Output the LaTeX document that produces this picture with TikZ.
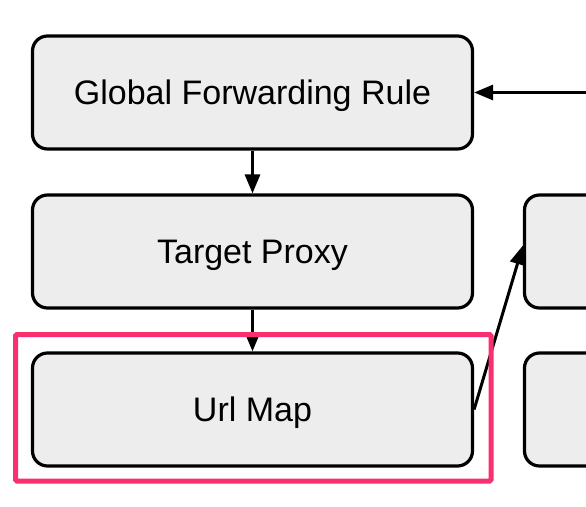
\documentclass[tikz,border=0pt]{standalone}
\usepackage{fontspec}
\setmainfont{Liberation Sans}
\usetikzlibrary{arrows.meta}
\tikzset{>={Triangle[length=19pt,width=15pt]}}
\usepackage{xcolor}
\colorlet{boxgray}{black!7}
\definecolor{mypink}{RGB}{248,48,112}

\begin{document}
\begin{tikzpicture}[x=1pt,y=-1pt]
        \tikzset{block/.style={draw,line width=3.2pt,rounded corners=15pt,fill=boxgray,
                minimum width=440pt,minimum height=113pt,inner sep=0pt,
                text height=24pt,text depth=0pt,font=\fontsize{34}{40}\selectfont}}
        \tikzset{link/.style={->,line width=3pt}}

        % FRAME
        \useasboundingbox (0,0) rectangle (586,506);
        \clip (0,0) rectangle (586,506);

        % BLOCKS
        \node[block] (GFR) at (252.5,92.5) {Global Forwarding Rule};
        \node[block] (TP) at (252.5,251.5) {Target Proxy};
        \node[block] (UM) at (252.5,409.5) {Url Map};
        \node[block,minimum width=200pt] (RT) at (624.5,251.5) {};
        \node[block,minimum width=200pt] (RB) at (624.5,409.5) {};

        % COORDINATES
        \coordinate (IN) at (600,92.5);

        % LINKS
        \draw[link] (IN) -- (GFR.east);
        \draw[link] (GFR) -- (TP);
        \draw[link] (TP) -- (UM);
        \draw[link] (UM.east) -- ([yshift=6pt]RT.west);

        % HIGHLIGHT
        \draw[mypink,line width=5pt,rounded corners=1.5pt] (15.5,334.5) rectangle (491,481);

    \end{tikzpicture}
\end{document}
